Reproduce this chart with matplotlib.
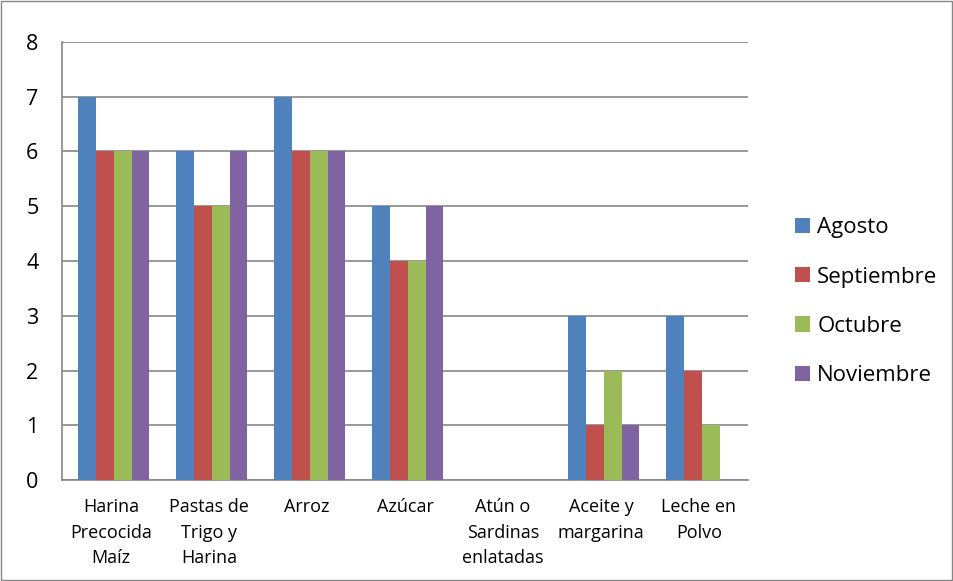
import numpy as np
import matplotlib.pyplot as plt
from matplotlib.patches import Rectangle

plt.rcParams['font.family'] = ['Open Sans', 'DejaVu Sans']

# data
categories = ['Harina\nPrecocida\nMaíz', 'Pastas de\nTrigo y\nHarina', 'Arroz', 'Azúcar',
              'Atún o\nSardinas\nenlatadas', 'Aceite y\nmargarina', 'Leche en\nPolvo']
months = ['Agosto', 'Septiembre', 'Octubre', 'Noviembre']
agosto = [7, 6, 7, 5, 0, 3, 3]
septiembre = [6, 5, 6, 4, 0, 1, 2]
octubre = [6, 5, 6, 4, 0, 2, 1]
noviembre = [6, 6, 6, 5, 0, 1, 0]
colors = ['#4F81BD', '#C0504D', '#9BBB59', '#8064A2']

series = [agosto, septiembre, octubre, noviembre]
gray = '#868686'

fig = plt.figure(figsize=(9.54, 5.81), dpi=100)
ax = fig.add_axes([0.065, 0.1738, 0.719, 0.754])

x = np.arange(len(categories))
w = 0.181
for i, (vals, name, c) in enumerate(zip(series, months, colors)):
    ax.bar(x + (i - 1.5) * w + 0.03, vals, width=w, color=c, label=name, zorder=3)

ax.set_xlim(-0.5, len(categories) - 0.5)
ax.set_ylim(0, 8)
ax.set_yticks(range(0, 9))
ax.set_xticks(x)
ax.set_xticklabels(categories, fontsize=13, linespacing=1.55)
ax.tick_params(axis='x', length=0, pad=13)
ax.tick_params(axis='y', labelsize=15.5, length=0, pad=17)
ax.grid(axis='y', color=gray, linewidth=1.2, zorder=0)
for s in ['top', 'right']:
    ax.spines[s].set_visible(False)
for s in ['left', 'bottom']:
    ax.spines[s].set_color(gray)
    ax.spines[s].set_linewidth(1.2)

ax.legend(loc='center left', bbox_to_anchor=(1.0685, 0.407), frameon=False,
          fontsize=16, handlelength=0.68, handleheight=0.68, labelspacing=1.27,
          handletextpad=0.32, borderpad=0, borderaxespad=0)

fig.patches.append(Rectangle((0.001, 0.001), 0.997, 0.997, transform=fig.transFigure,
                             fill=False, edgecolor=gray, linewidth=1))

fig.savefig('out.png', dpi=100)
